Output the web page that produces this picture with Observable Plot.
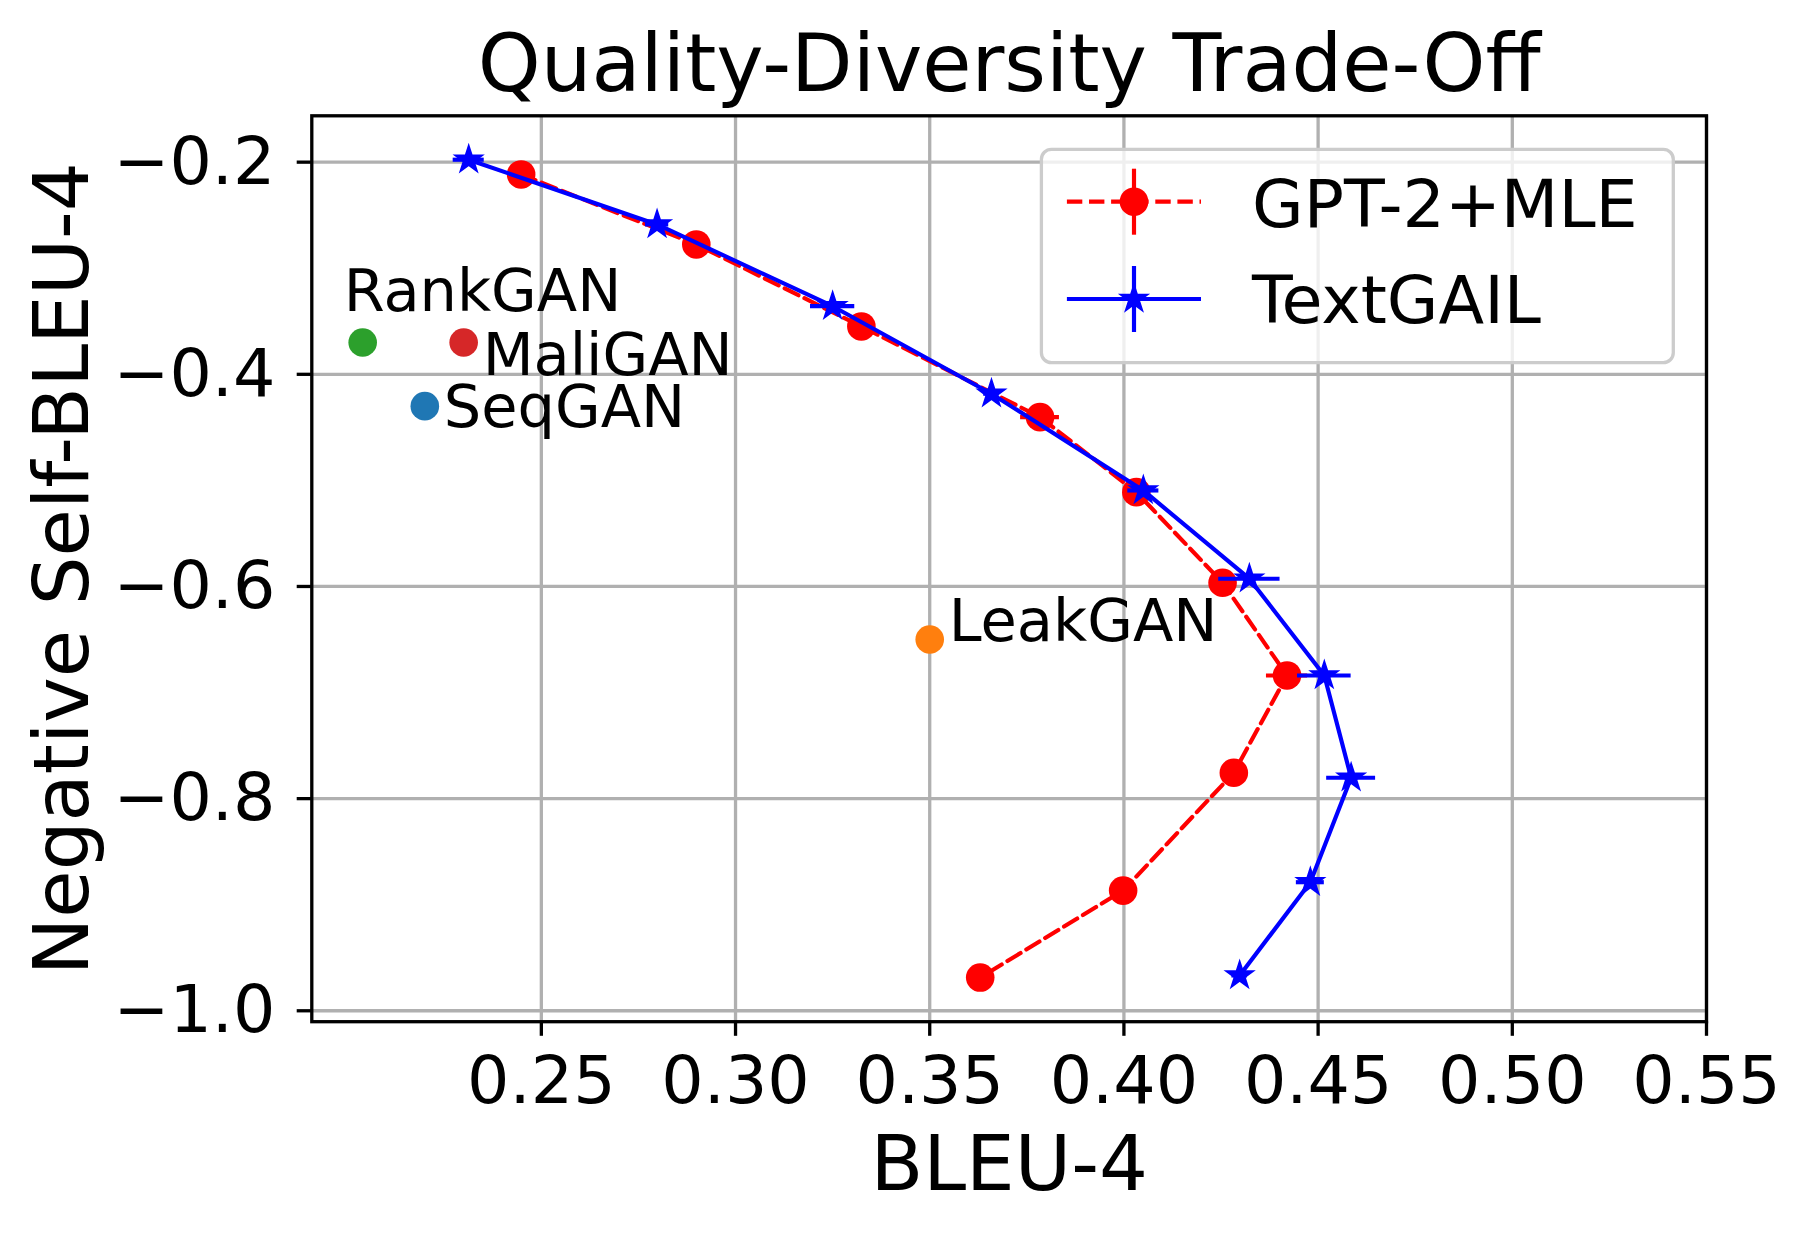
<!DOCTYPE html>
<html>
<head>
<meta charset="utf-8">
<script src="https://cdn.jsdelivr.net/npm/d3@7"></script>
<script src="https://cdn.jsdelivr.net/npm/@observablehq/plot@0.6"></script>
<style>
  html, body { margin: 0; padding: 0; background: #fff; }
  #fig { position: relative; width: 1810px; height: 1234px; font-family: "DejaVu Sans", sans-serif; }
  #fig svg { display: block; }
  #legend { position: absolute; left: 0; top: 0; pointer-events: none; }
</style>
</head>
<body>
<div id="fig"></div>
<script>
// ---- data ----
const xTicks = [0.25, 0.30, 0.35, 0.40, 0.45, 0.50, 0.55];
const yTicks = [-1.0, -0.8, -0.6, -0.4, -0.2];

const seriesNames = ["GPT-2+MLE", "TextGAIL"];

const gptX    = [0.2448, 0.2899, 0.3324, 0.3784, 0.4032, 0.4254, 0.4420, 0.4283, 0.3998, 0.3630];
const gptY    = [-0.2116, -0.2776, -0.3549, -0.4404, -0.5111, -0.5965, -0.6839, -0.7756, -0.8867, -0.9687];
const gptXErr = [0.002, 0.002, 0.002, 0.005, 0.003, 0.003, 0.0053, 0.002, 0.002, 0.002];

const gailX    = [0.2313, 0.2798, 0.3250, 0.3659, 0.4050, 0.4323, 0.4516, 0.4585, 0.4480, 0.4298];
const gailY    = [-0.1977, -0.2587, -0.3358, -0.4183, -0.5095, -0.5927, -0.6839, -0.7803, -0.8788, -0.9667];
const gailXErr = [0.004, 0.003, 0.0057, 0.002, 0.004, 0.0079, 0.0069, 0.0063, 0.0036, 0.002];

const ganNames  = ["RankGAN", "MaliGAN", "SeqGAN", "LeakGAN"];
const ganX      = [0.204, 0.230, 0.220, 0.350];
const ganY      = [-0.37, -0.37, -0.43, -0.65];
const ganColors = ["#2ca02c", "#d62728", "#1f77b4", "#ff7f0e"];

// ---- tables ----
const gpt  = gptX.map((x, i) => ({x, y: gptY[i], e: gptXErr[i]}));
const gail = gailX.map((x, i) => ({x, y: gailY[i], e: gailXErr[i]}));
const gans = ganNames.map((name, i) => ({name, x: ganX[i], y: ganY[i], color: ganColors[i]}));

// label placement (pixels) relative to each point
const labelOffsets = {
  RankGAN: [-19, -31],
  MaliGAN: [19, 33],
  SeqGAN:  [19, 21],
  LeakGAN: [19, 1.4]
};

const LW = 4.17;     // 1pt at 300dpi
const GRID = 3.3;    // 0.8pt
const STAR_R = 8.2;

const chart = Plot.plot({
  width: 1810,
  height: 1234,
  marginLeft: 311.3,
  marginRight: 104,
  marginTop: 115.3,
  marginBottom: 212.8,
  x: {domain: [0.1909, 0.55]},
  y: {domain: [-1.0103, -0.1563]},
  color: {type: "identity"},
  style: {fontFamily: "DejaVu Sans", background: "white", color: "black", overflow: "visible"},
  marks: [
    Plot.gridX(xTicks, {stroke: "#b0b0b0", strokeOpacity: 1, strokeWidth: GRID}),
    Plot.gridY(yTicks, {stroke: "#b0b0b0", strokeOpacity: 1, strokeWidth: GRID}),
    Plot.axisX({ticks: xTicks, tickFormat: d3.format(".2f"), tickSize: 14.6, tickPadding: 19.7,
                fontSize: 66.7, strokeWidth: GRID, label: null}),
    Plot.axisY({ticks: yTicks, tickFormat: d3.format(".1f"), tickSize: 14.6, tickPadding: 21.7,
                fontSize: 66.7, strokeWidth: GRID, label: null}),

    // other GANs
    Plot.dot(gans, {x: "x", y: "y", r: 14.3, fill: "color"}),
    ...gans.map(g => Plot.text([g], {
      x: "x", y: "y", text: "name", textAnchor: "start", lineAnchor: "bottom",
      fontSize: 59, fill: "black", dx: labelOffsets[g.name][0], dy: labelOffsets[g.name][1]
    })),

    // GPT-2+MLE
    Plot.ruleY(gpt, {y: "y", x1: d => d.x - d.e, x2: d => d.x + d.e, stroke: "red", strokeWidth: LW}),
    Plot.line(gpt, {x: "x", y: "y", stroke: "red", strokeWidth: LW, strokeDasharray: "15.4,6.7"}),
    Plot.dot(gpt, {x: "x", y: "y", r: 14.3, fill: "red"}),

    // TextGAIL
    Plot.ruleY(gail, {y: "y", x1: d => d.x - d.e, x2: d => d.x + d.e, stroke: "blue", strokeWidth: LW}),
    Plot.line(gail, {x: "x", y: "y", stroke: "blue", strokeWidth: LW}),
    Plot.dot(gail, {x: "x", y: "y", symbol: "star", r: STAR_R, fill: "blue", stroke: "blue", strokeWidth: 2}),

    Plot.frame({stroke: "black", strokeWidth: GRID}),

    // title and axis labels
    Plot.text(["Quality-Diversity Trade-Off"], {text: d => d, frameAnchor: "top", dy: -24.6,
              textAnchor: "middle", lineAnchor: "bottom", fontSize: 80, fill: "black"}),
    Plot.text(["BLEU-4"], {text: d => d, frameAnchor: "bottom", dy: 168.1,
              textAnchor: "middle", lineAnchor: "bottom", fontSize: 77, fill: "black"}),
    Plot.text(["Negative Self-BLEU-4"], {text: d => d, frameAnchor: "left", dx: -224, rotate: -90,
              textAnchor: "middle", lineAnchor: "bottom", fontSize: 77, fill: "black"})
  ]
});

const fig = document.getElementById("fig");
fig.appendChild(chart);

// ---- legend overlay ----
const leg = d3.select(fig).append("svg")
  .attr("id", "legend").attr("width", 1810).attr("height", 1234)
  .style("font-family", "DejaVu Sans");

leg.append("rect")
  .attr("x", 1041.4).attr("y", 149.3).attr("width", 631.9).attr("height", 213.4)
  .attr("rx", 10).attr("ry", 10)
  .attr("fill", "white").attr("fill-opacity", 0.8)
  .attr("stroke", "#cccccc").attr("stroke-width", 3.3);

const handleX0 = 1066.9, handleX1 = 1201, handleXC = 1134;
const rows = [
  {name: seriesNames[0], color: "red", cy: 201.7, dash: "15.4,6.7", marker: "circle", textY: 226.7},
  {name: seriesNames[1], color: "blue", cy: 299, dash: null, marker: "star", textY: 323.3}
];
rows.forEach(r => {
  const l = leg.append("line")
    .attr("x1", handleX0).attr("x2", handleX1).attr("y1", r.cy).attr("y2", r.cy)
    .attr("stroke", r.color).attr("stroke-width", LW);
  if (r.dash) l.attr("stroke-dasharray", r.dash);
  leg.append("line")
    .attr("x1", handleXC).attr("x2", handleXC).attr("y1", r.cy - 33).attr("y2", r.cy + 33)
    .attr("stroke", r.color).attr("stroke-width", LW);
  if (r.marker === "circle") {
    leg.append("circle").attr("cx", handleXC).attr("cy", r.cy).attr("r", 14.3).attr("fill", r.color);
  } else {
    leg.append("path")
      .attr("d", d3.symbol(d3.symbolStar, Math.PI * STAR_R * STAR_R)())
      .attr("transform", `translate(${handleXC},${r.cy})`)
      .attr("fill", r.color).attr("stroke", r.color).attr("stroke-width", 2);
  }
  leg.append("text")
    .attr("x", 1252).attr("y", r.textY)
    .attr("font-size", 66.7).attr("fill", "black")
    .text(r.name);
});
</script>
</body>
</html>
